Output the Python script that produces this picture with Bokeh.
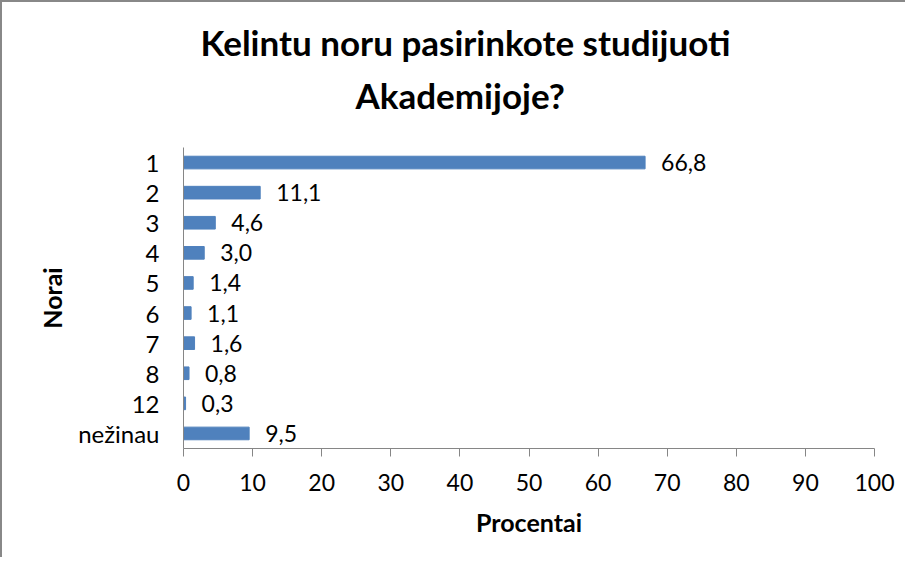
from bokeh.plotting import figure
from bokeh.models import FactorRange, Range1d, FixedTicker, ColumnDataSource, Title
from bokeh.core.properties import value
from bokeh.embed import file_html
from bokeh.resources import INLINE

categories = ["1", "2", "3", "4", "5", "6", "7", "8", "12", "nežinau"]
values = [66.8, 11.1, 4.6, 3.0, 1.4, 1.1, 1.6, 0.8, 0.3, 9.5]
labels = ["66,8", "11,1", "4,6", "3,0", "1,4", "1,1", "1,6", "0,8", "0,3", "9,5"]
x_ticks = [0, 10, 20, 30, 40, 50, 60, 70, 80, 90, 100]
title_lines = ["Kelintu noru pasirinkote studijuoti", "Akademijoje?"]
x_title = "Procentai"
y_title = "Norai"

FONT = "Lato"
BAR = "#4F81BD"
GRAY = "#868686"

src = ColumnDataSource(dict(cat=categories, val=values, lab=labels))

p = figure(
    width=905, height=557,
    y_range=FactorRange(factors=list(reversed(categories))),
    x_range=Range1d(0, 100),
    output_backend="svg", toolbar_location=None,
    min_border_left=181, min_border_right=33, min_border_top=145, min_border_bottom=111,
    styles={"border-top": "2px solid #888888", "border-left": "2px solid #888888"},
)
p.title.visible = False
p.outline_line_color = None
p.xgrid.grid_line_color = None
p.ygrid.grid_line_color = None

# lower line first (nearest the plot), then upper line
for line, so, off in zip(reversed(title_lines), [63, -45], [172, 17]):
    p.add_layout(Title(text=line, align="left", offset=off, standoff=so,
                       text_font=FONT, text_font_size="35px", text_font_style="bold",
                       text_color="black", text_line_height=1.0), "above")

p.hbar(y="cat", right="val", height=0.42, source=src, fill_color=BAR, line_color=BAR)
p.text(x="val", y="cat", text="lab", source=src, x_offset=16,
       text_baseline="middle", text_align="left",
       text_font=value(FONT), text_font_size="23px", text_color="black")

xa = p.xaxis[0]
xa.ticker = FixedTicker(ticks=x_ticks)
xa.axis_line_color = GRAY
xa.major_tick_line_color = GRAY
xa.major_tick_out = 8
xa.major_tick_in = 0
xa.minor_tick_line_color = None
xa.major_label_text_font = FONT
xa.major_label_text_font_size = "23px"
xa.major_label_text_color = "black"
xa.major_label_standoff = 17
xa.axis_label = x_title
xa.axis_label_text_font = FONT
xa.axis_label_text_font_size = "25px"
xa.axis_label_text_font_style = "bold"
xa.axis_label_text_color = "black"
xa.axis_label_standoff = 13

ya = p.yaxis[0]
ya.axis_line_color = GRAY
ya.major_tick_line_color = None
ya.major_tick_out = 0
ya.major_tick_in = 0
ya.minor_tick_line_color = None
ya.major_label_text_font = FONT
ya.major_label_text_font_size = "24px"
ya.major_label_text_color = "black"
ya.major_label_standoff = 24
ya.axis_label = y_title
ya.axis_label_text_font = FONT
ya.axis_label_text_font_size = "25px"
ya.axis_label_text_font_style = "bold"
ya.axis_label_text_color = "black"
ya.axis_label_standoff = 8

open("out.html", "w").write(file_html(p, INLINE))
